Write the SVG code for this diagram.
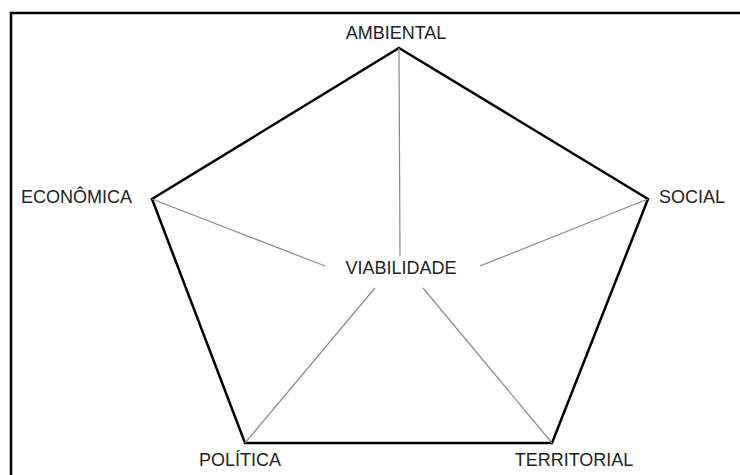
<svg xmlns="http://www.w3.org/2000/svg" width="740" height="475" viewBox="0 0 740 475">
  <style>
    .frame { fill: none; stroke: #000; stroke-width: 2.5; }
    .edge { fill: none; stroke: #000; stroke-width: 2.5; stroke-linejoin: miter; }
    .spoke { stroke: #8a8a8a; stroke-width: 1.2; }
    .label { font-family: "Liberation Sans", Arial, sans-serif; font-size: 18px; fill: #222; }
  </style>
  <rect width="740" height="475" fill="#fff"/>
  <!-- outer frame, open to the right and bottom -->
  <rect class="frame" x="11" y="13" width="760" height="500"/>

  <g id="connectors">
    <polygon class="edge" points="399,48 648,199 552,443 245,443 152,199"/>
    <line class="spoke" x1="399" y1="48" x2="400" y2="256"/>
    <line class="spoke" x1="152" y1="199" x2="325" y2="266"/>
    <line class="spoke" x1="648" y1="199" x2="480" y2="266"/>
    <line class="spoke" x1="245" y1="443" x2="375" y2="288"/>
    <line class="spoke" x1="552" y1="443" x2="423" y2="288"/>
  </g>

  <g id="ambiental"><text class="label" x="396" y="39" text-anchor="middle">AMBIENTAL</text></g>
  <g id="economica"><text class="label" x="21" y="203">ECONÔMICA</text></g>
  <g id="social"><text class="label" x="659" y="203">SOCIAL</text></g>
  <g id="viabilidade"><text class="label" x="401" y="274" text-anchor="middle">VIABILIDADE</text></g>
  <g id="politica"><text class="label" x="240" y="466" text-anchor="middle">POLÍTICA</text></g>
  <g id="territorial"><text class="label" x="574" y="466" text-anchor="middle">TERRITORIAL</text></g>
</svg>
